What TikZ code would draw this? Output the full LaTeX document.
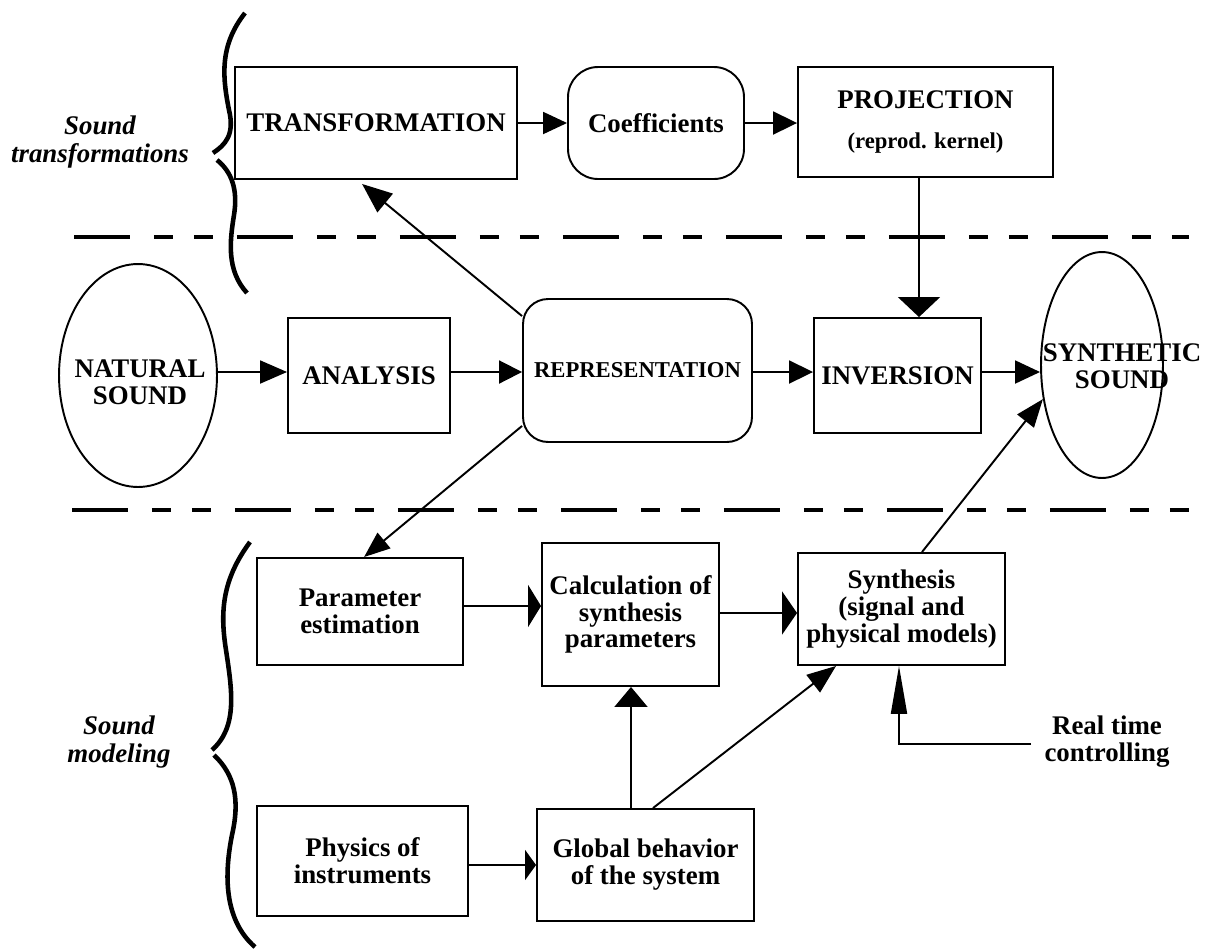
\documentclass[tikz,border=0pt]{standalone}
\usepackage{fontspec}
\setmainfont{Liberation Serif}
\usetikzlibrary{arrows.meta,shapes.geometric,calc}
\begin{document}
\begin{tikzpicture}[x=0.02cm,y=-0.02cm,
  every node/.style={font=\fontsize{15.3}{15.3}\selectfont\bfseries, align=center},
  box/.style={draw, line width=1.1pt, inner sep=0pt},
  conn/.style={line width=1.1pt},
  arrw/.style 2 args={conn, -{Triangle[length=#1cm,width=#2cm]}},
  sepline/.style={line width=2.8pt, dash pattern=on 1.12cm off 0.48cm on 0.38cm off 0.42cm on 0.38cm off 0.48cm},
  brace/.style={line width=2.6pt},
  side/.style={font=\fontsize{15.3}{15.9}\selectfont\bfseries\itshape}]
\useasboundingbox (0,0) rectangle (1208,951);

% separators
\draw[sepline] (74,237) -- (1189,237);
\draw[sepline] (72,510) -- (1189,510);

% braces
\draw[brace] (245,13) .. controls (220,45) and (222,75) .. (229,110) .. controls (235,135) and (225,145) .. (213,153);
\draw[brace] (217,160) .. controls (232,172) and (238,190) .. (234,215) .. controls (230,240) and (226,270) .. (247,293);
\draw[brace] (250,542) .. controls (222,580) and (220,612) .. (226,650) .. controls (232,690) and (238,727) .. (212,750);
\draw[brace] (214,755) .. controls (235,775) and (240,800) .. (232,835) .. controls (224,875) and (224,920) .. (255,947);

\node[side] (stl) at (100,142) {Sound\\transformations};
\node[side] (sml) at (119,742) {Sound\\modeling};

% top row
\node[box, minimum width=5.64cm, minimum height=2.24cm] (trans) at (376,123) {TRANSFORMATION};
\node[box, rounded corners=0.6cm, minimum width=3.52cm, minimum height=2.24cm] (coef) at (656,123) {Coefficients};
\node[box, minimum width=5.1cm, minimum height=2.2cm] (proj) at (925.5,122) {PROJECTION\\[7pt]\fontsize{12.9}{15.3}\selectfont (reprod. kernel)};

% middle row
\node[box, ellipse, minimum width=3.16cm, minimum height=4.46cm] (nat) at (138,375.5) {};
\node (nattext) at (140,382) {NATURAL\\SOUND};
\node[box, minimum width=3.24cm, minimum height=2.3cm] (ana) at (369,375.5) {ANALYSIS};
\node[box, rounded corners=0.5cm, minimum width=4.58cm, minimum height=2.86cm, font=\fontsize{12.9}{12.9}\selectfont\bfseries] (repr) at (637.5,370.5) {REPRESENTATION};
\node[box, minimum width=3.34cm, minimum height=2.3cm] (inv) at (897.5,375.5) {INVERSION};
\node[box, ellipse, minimum width=2.44cm, minimum height=4.52cm] (syn) at (1102,365) {};
\node (syntext) at (1122,366) {SYNTHETIC\\SOUND};

% bottom
\node[box, minimum width=4.12cm, minimum height=2.14cm] (param) at (360,611.5) {Parameter\\estimation};
\node[box, minimum width=3.54cm, minimum height=2.86cm] (calc) at (630.5,614.5) {Calculation of\\synthesis\\parameters};
\node[box, minimum width=4.14cm, minimum height=2.24cm] (synth) at (901.5,609) {Synthesis\\(signal and\\physical models)};
\node[box, minimum width=4.22cm, minimum height=2.2cm] (phys) at (362.5,861) {Physics of\\instruments};
\node[box, minimum width=4.34cm, minimum height=2.24cm] (glob) at (645.5,865) {Global behavior\\of the system};
\node[inner sep=0pt] (rtext) at (1107,742) {Real time\\controlling};

% connectors
\draw[arrw={0.48}{0.44}] (trans.east) -- (coef.west);
\draw[arrw={0.48}{0.46}] (coef.east) -- (coef.east -| proj.west);
\coordinate (pjs) at ($(proj.south)+(-6.5,0)$);
\draw[arrw={0.4}{0.84}] (pjs) -- (pjs |- inv.north);

\coordinate (na) at ($(nat.east)+(0,-3.5)$);
\draw[arrw={0.54}{0.46}] (na) -- (na -| ana.west);
\coordinate (ar) at ($(ana.east)+(0,-3.5)$);
\draw[arrw={0.46}{0.46}] (ar) -- (ar -| repr.west);
\coordinate (ri) at ($(repr.east)+(0,1.5)$);
\draw[arrw={0.48}{0.46}] (ri) -- (ri -| inv.west);
\coordinate (is) at ($(inv.east)+(0,-3.5)$);
\draw[arrw={0.5}{0.46}] (is) -- (is -| syn.west);

\coordinate (rt1) at ($(repr.north west)+(0,18)$);
\coordinate (rt2) at ($(trans.south west)+(128,4)$);
\draw[arrw={0.6}{0.48}] (rt1) -- (rt2);
\coordinate (rp1) at ($(repr.south west)+(0,-17)$);
\coordinate (rp2) at ($(param.north west)+(108,0)$);
\draw[arrw={0.52}{0.4}] (rp1) -- (rp2);

\coordinate (pc) at ($(param.east)+(0,-5.5)$);
\draw[arrw={0.26}{0.84}] (pc) -- (pc -| calc.west);
\coordinate (cs) at ($(calc.east)+(0,-1.5)$);
\draw[arrw={0.3}{0.86}] (cs) -- (cs -| synth.west);
\coordinate (gc) at ($(glob.north)+(-14.5,0)$);
\draw[arrw={0.4}{0.66}] (gc) -- (gc |- calc.south);
\coordinate (gs1) at ($(glob.north)+(7.5,0)$);
\coordinate (gs2) at ($(synth.south west)+(39,0)$);
\draw[arrw={0.58}{0.44}] (gs1) -- (gs2);
\coordinate (ss) at ($(synth.north)+(20.5,0)$);
\draw[arrw={0.56}{0.42}] (ss) -- (syn.210);
\coordinate (pg) at ($(phys.east)+(0,4)$);
\draw[arrw={0.22}{0.6}] (pg) -- (pg -| glob.west);
\coordinate (rtc) at ($(rtext.west)+(-13,2)$);
\coordinate (rts) at ($(synth.south)+(-2.5,0)$);
\draw[arrw={0.96}{0.32}] (rtc) -| (rts);
\end{tikzpicture}
\end{document}
